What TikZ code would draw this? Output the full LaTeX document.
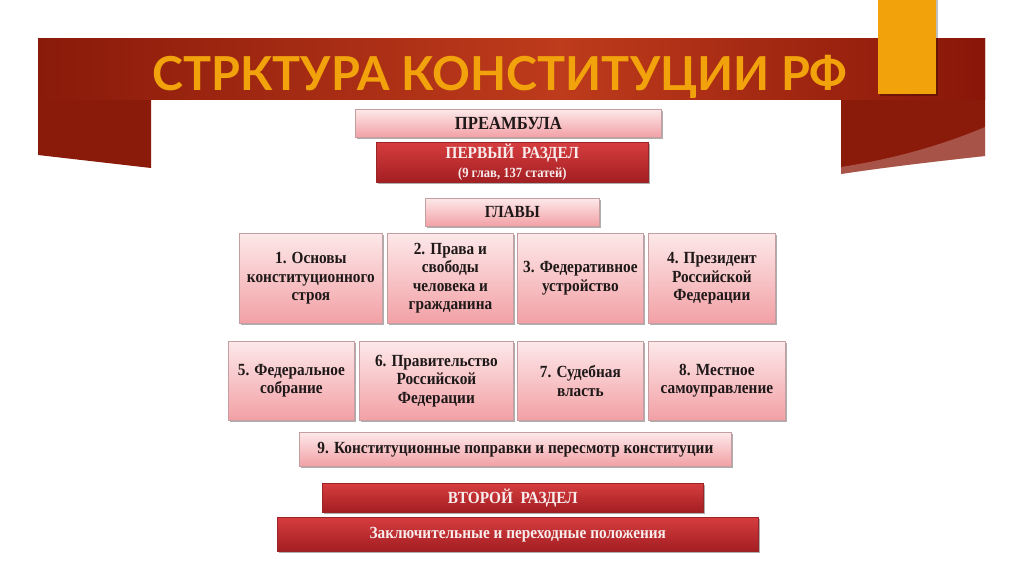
\documentclass[tikz,border=0pt]{standalone}
\usepackage{fontspec}
\setmainfont{Liberation Serif}[FakeStretch=0.9]
\newfontfamily\titlefont{Lato}
\usetikzlibrary{shadows}
\definecolor{bannerdark}{HTML}{8A1A0A}
\definecolor{bannermid}{HTML}{BE3B1C}
\definecolor{bannerright}{HTML}{881608}
\definecolor{orangeacc}{HTML}{F2A30C}
\definecolor{pinktop}{HTML}{FDE8E9}
\definecolor{pinkbot}{HTML}{F2A0A5}
\definecolor{boxedge}{HTML}{C49EA0}
\definecolor{boxtext}{HTML}{1E1818}
\definecolor{redtop}{HTML}{D63D3F}
\definecolor{redbot}{HTML}{A31E22}
\definecolor{rededge}{HTML}{9A2426}
\definecolor{redtext}{HTML}{F8ECEC}
\tikzset{
  boxbase/.style={anchor=north west, inner sep=0pt, align=center,
    drop shadow={shadow xshift=1.3pt, shadow yshift=-1.8pt, opacity=0.45, fill=black!70}},
  pinkbox/.style={boxbase, draw=boxedge, line width=0.8pt, top color=pinktop,
    bottom color=pinkbot, text=boxtext, font=\bfseries\fontsize{17}{18.5}\selectfont},
  redbox/.style={boxbase, draw=rededge, line width=0.6pt, top color=redtop,
    bottom color=redbot, text=redtext, font=\bfseries\fontsize{17}{20}\selectfont},
}
\begin{document}
\begin{tikzpicture}[x=1pt,y=-1pt]
\useasboundingbox[fill=white] (0,0) rectangle (1024,574);
% banner
\fill[bannerdark]
  (38,38) -- (985,38) -- (985,156) .. controls (930,162) and (880,168) .. (841,174)
  -- (841,99) -- (151,99) -- (151,168) -- (38,155) -- cycle;
\shade[left color=bannerdark, right color=bannermid] (38,38) rectangle (560,99);
\shade[left color=bannermid, right color=bannerright] (560,38) rectangle (985,99);
\fill[white, opacity=0.25] (841,167) .. controls (900,158) and (950,142) .. (985,127)
  -- (985,156) .. controls (930,162) and (880,168) .. (841,174) -- cycle;
% orange accent
\fill[black, opacity=0.25] (880,0) rectangle (938,96);
\fill[orangeacc] (878,0) rectangle (936,94);
% title
\node[anchor=base west, inner sep=0pt, text=orangeacc] (title) at (152,90)
  {\resizebox{695pt}{!}{\titlefont\bfseries СТРКТУРА КОНСТИТУЦИИ РФ}};
% boxes
\node[pinkbox, minimum width=306pt, minimum height=28pt, font=\bfseries\fontsize{18.5}{20}\selectfont] (pre) at (355,109) {ПРЕАМБУЛА};
\node[redbox, minimum width=272pt, minimum height=40pt] (r1) at (376,142)
  {ПЕРВЫЙ~~РАЗДЕЛ\\[-1pt]{\fontsize{14}{16}\selectfont (9 глав, 137 статей)}};
\node[pinkbox, minimum width=174pt, minimum height=28pt] (glavy) at (425,198) {ГЛАВЫ};
\node[pinkbox, minimum width=143pt, minimum height=90pt] (b1) at (239,233) {1. Основы\\конституционного\\строя};
\node[pinkbox, minimum width=126pt, minimum height=90pt] (b2) at (387,233) {2. Права и\\свободы\\человека и\\гражданина};
\node[pinkbox, minimum width=126pt, minimum height=90pt] (b3) at (517,233) {3. Федеративное\\устройство};
\node[pinkbox, minimum width=127pt, minimum height=90pt] (b4) at (648,233) {4. Президент\\Российской\\Федерации};
\node[pinkbox, minimum width=126pt, minimum height=79pt] (b5) at (228,341) {5. Федеральное\\собрание};
\node[pinkbox, minimum width=154pt, minimum height=79pt] (b6) at (359,341) {6. Правительство\\Российской\\Федерации};
\node[pinkbox, minimum width=126pt, minimum height=79pt] (b7) at (517,341) {7. Судебная\\власть};
\node[pinkbox, minimum width=137pt, minimum height=79pt] (b8) at (648,341) {8. Местное\\самоуправление};
\node[pinkbox, minimum width=432pt, minimum height=34pt] (b9) at (299,432) {9. Конституционные поправки и пересмотр конституции};
\node[redbox, minimum width=381pt, minimum height=29pt] (r2) at (322,483) {ВТОРОЙ~~РАЗДЕЛ};
\node[redbox, minimum width=481pt, minimum height=34pt] (r3) at (277,517) {Заключительные и переходные положения};
\end{tikzpicture}
\end{document}
